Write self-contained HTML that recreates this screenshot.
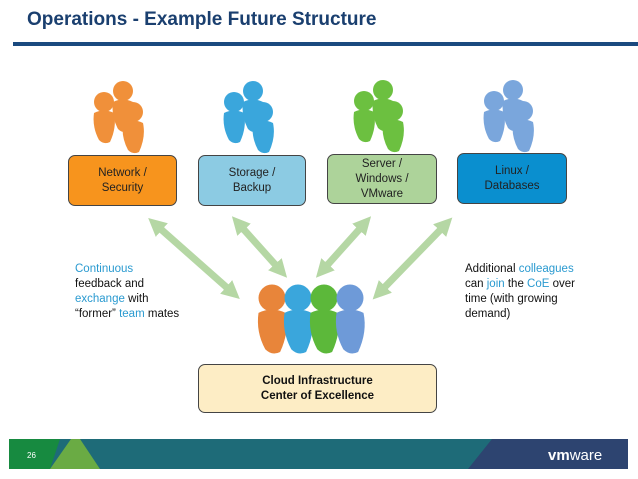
<!DOCTYPE html>
<html><head><meta charset="utf-8"><style>
body{margin:0;width:638px;height:479px;background:#fff;position:relative;overflow:hidden;font-family:"Liberation Sans",sans-serif}
.t{position:absolute;left:27px;top:9px;font-size:19px;font-weight:bold;color:#1a3f6f}
.rule{position:absolute;left:13px;top:42px;width:625px;height:4px;background:#1a4a7f}
.box{position:absolute;border:1px solid #444;border-radius:7px;display:flex;align-items:center;justify-content:center;text-align:center;font-size:11.5px;line-height:15px;color:#222}
.tx{position:absolute;font-size:11.5px;line-height:15px;color:#111}
.b{color:#2a9ad0}
</style></head><body>
<div class="t">Operations - Example Future Structure</div>
<div class="rule"></div>
<svg width="638" height="479" style="position:absolute;left:0;top:0">
<defs>
<marker id="ah" viewBox="0 0 10 10" refX="5" refY="5" markerWidth="2.6" markerHeight="2.6" orient="auto-start-reverse"><path d="M0,0L10,5L0,10z" fill="#b5d7a4"/></marker>
<g id="p"><circle cx="0" cy="0" r="10"/><path d="M-10,11 Q0,6 10,11 Q13,25 6,40 Q0,43 -5,38 Q-12,25 -10,11z"/></g>
</defs>
<g stroke="#b5d7a4" stroke-width="7" marker-start="url(#ah)" marker-end="url(#ah)">
<line x1="155" y1="224" x2="233" y2="293"/>
<line x1="238" y1="223" x2="281" y2="271"/>
<line x1="365" y1="223" x2="322" y2="271"/>
<line x1="446" y1="224" x2="379" y2="293"/>
</g>
<g fill="#f0903a"><use href="#p" x="104" y="102"/><use href="#p" x="123" y="91"/><use href="#p" x="133" y="112"/></g>
<g fill="#3aa6dc"><use href="#p" x="234" y="102"/><use href="#p" x="253" y="91"/><use href="#p" x="263" y="112"/></g>
<g fill="#6cc040"><use href="#p" x="364" y="101"/><use href="#p" x="383" y="90"/><use href="#p" x="393" y="111"/></g>
<g fill="#7aa6dc"><use href="#p" x="494" y="101"/><use href="#p" x="513" y="90"/><use href="#p" x="523" y="111"/></g>
<g transform="translate(272,298) scale(1.35)" fill="#e8853a"><use href="#p"/></g>
<g transform="translate(298,298) scale(1.35)" fill="#3aa6dc"><use href="#p"/></g>
<g transform="translate(324,298) scale(1.35)" fill="#5cb83a"><use href="#p"/></g>
<g transform="translate(350,298) scale(1.35)" fill="#6e9ad8"><use href="#p"/></g>
<path d="M9,439H628V469H9z" fill="#1e6b78"/>
<path d="M9,439H60L50,469H9z" fill="#178a40"/>
<path d="M50,469L71,439H80L100,469z" fill="#6aab44"/>
<path d="M468,469L492,439H628V469z" fill="#2d4470"/>
<text x="27" y="458" font-size="8" fill="#fff" font-family="Liberation Sans">26</text>
<text x="548" y="460" font-size="15" fill="#fff" font-family="Liberation Sans"><tspan font-weight="bold">vm</tspan>ware</text>
</svg>
<div class="box" style="left:68px;top:155px;width:107px;height:49px;background:#f7941d">Network /<br>Security</div>
<div class="box" style="left:198px;top:155px;width:106px;height:49px;background:#8ccbe3">Storage /<br>Backup</div>
<div class="box" style="left:327px;top:154px;width:108px;height:48px;background:#add39a">Server /<br>Windows /<br>VMware</div>
<div class="box" style="left:457px;top:153px;width:108px;height:49px;background:#0a8fcf">Linux /<br>Databases</div>
<div class="box" style="left:198px;top:364px;width:237px;height:47px;background:#fdedc5;font-weight:bold;color:#111">Cloud Infrastructure<br>Center of Excellence</div>
<div class="tx" style="left:75px;top:262px"><span class="b">Continuous</span><br>feedback and<br><span class="b">exchange</span> with<br>“former” <span class="b">team</span> mates</div>
<div class="tx" style="left:465px;top:262px">Additional <span class="b">colleagues</span><br>can <span class="b">join</span> the <span class="b">CoE</span> over<br>time (with growing<br>demand)</div>
</body></html>
